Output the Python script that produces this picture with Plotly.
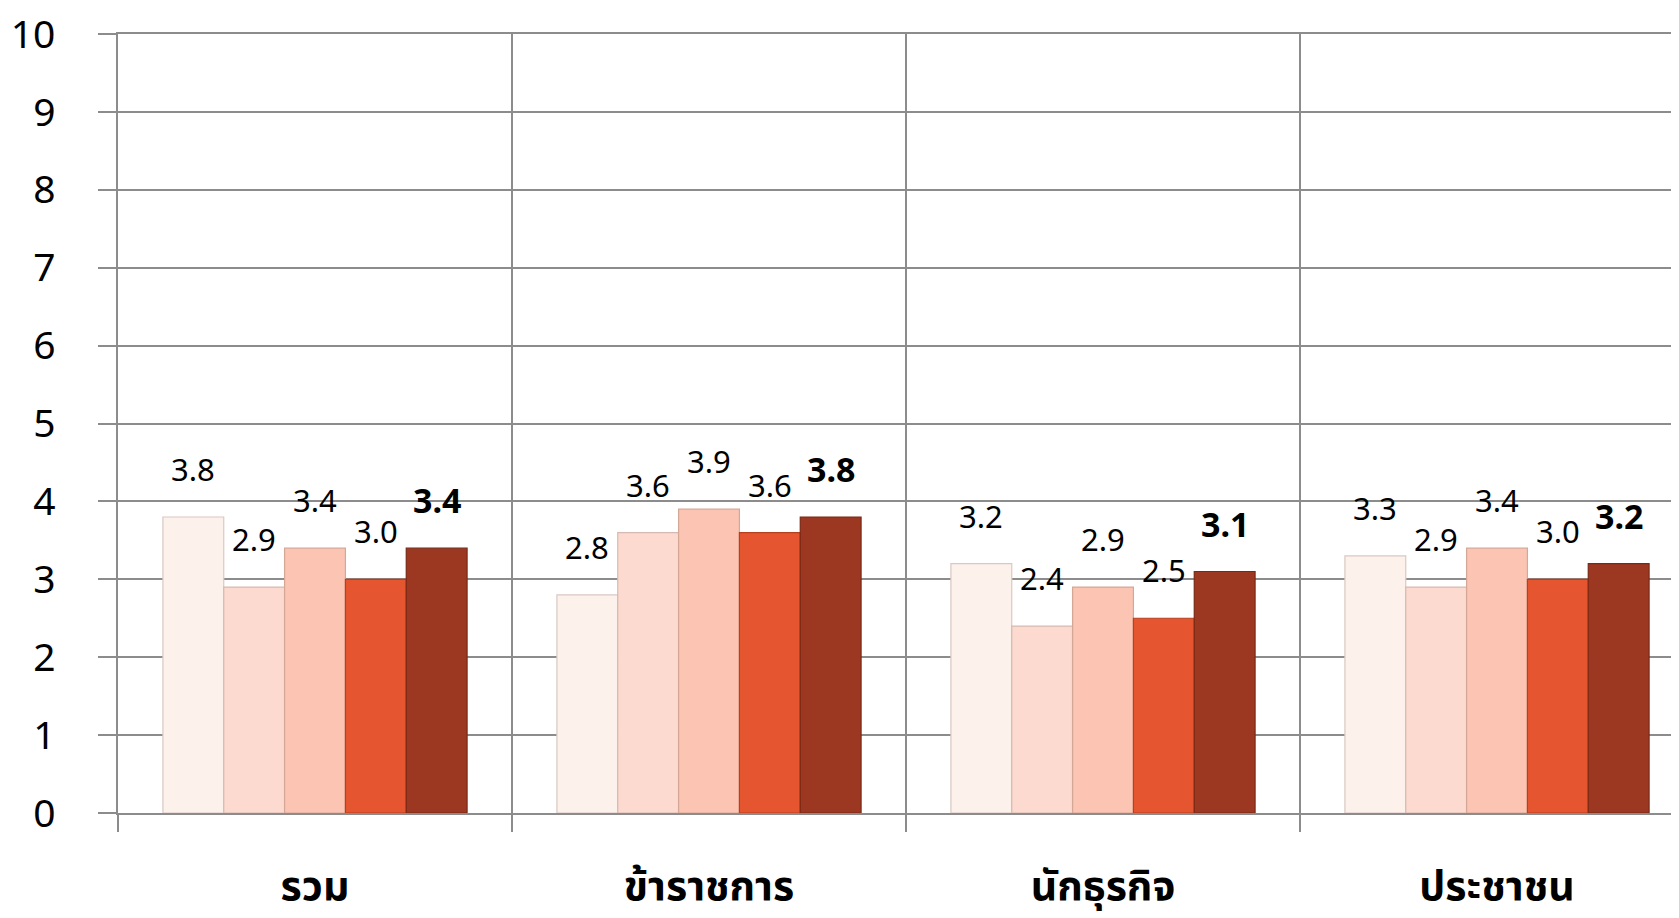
import plotly.graph_objects as go

categories = ["รวม", "ข้าราชการ", "นักธุรกิจ", "ประชาชน"]
series_names = ["S1", "S2", "S3", "S4", "S5"]
series_values = [
    [3.8, 2.8, 3.2, 3.3],
    [2.9, 3.6, 2.4, 2.9],
    [3.4, 3.9, 2.9, 3.4],
    [3.0, 3.6, 2.5, 3.0],
    [3.4, 3.8, 3.1, 3.2],
]
colors = ["#FDF1EC", "#FCDAD0", "#FBC4B3", "#E5552F", "#9C3721"]
line_colors = ["#D9C8C3", "#D6B9B0", "#D4A797", "#B8401F", "#7A2915"]
y_ticks = list(range(0, 11))

BARGAP = 0.228
n_series = len(series_values)
x_idx = list(range(len(categories)))

fig = go.Figure()
for i, (name, vals) in enumerate(zip(series_names, series_values)):
    fig.add_trace(go.Bar(
        x=x_idx, y=vals, name=name,
        marker=dict(color=colors[i], line=dict(color=line_colors[i], width=1.2)),
        showlegend=False, hoverinfo="skip",
    ))

# data labels above the bars
group_w = 1 - BARGAP
bar_w = group_w / n_series
for i, vals in enumerate(series_values):
    last = i == n_series - 1
    for c, v in zip(x_idx, vals):
        xc = c - group_w / 2 + bar_w * (i + 0.5)
        fig.add_annotation(
            x=xc, y=v, text=f"{v:.1f}", showarrow=False,
            yshift=48, yanchor="middle", xanchor="center",
            font=dict(family="Noto Sans, sans-serif", size=34 if last else 31,
                      color="black", weight="bold" if last else "normal"),
        )

GRID = "#8C8C8C"
fig.update_layout(
    width=1671, height=910,
    margin=dict(l=110, r=0, t=26, b=105, autoexpand=False),
    paper_bgcolor="white", plot_bgcolor="white",
    barmode="group", bargap=BARGAP, bargroupgap=0,
    xaxis=dict(
        automargin=False,
        range=[-0.5, -0.5 + 1561 / 394],
        tickmode="array", tickvals=x_idx, ticktext=categories,
        ticks="", showgrid=False, zeroline=False,
        tickfont=dict(family="Noto Sans Thai, Noto Sans, sans-serif", size=41,
                      color="black", weight="bold"),
        ticklabelstandoff=36, ticklabeloverflow="allow",
        minor=dict(tickmode="array", tickvals=[-0.5, 0.5, 1.5, 2.5],
                   showgrid=True, gridcolor=GRID, gridwidth=1.5,
                   ticks="outside", ticklen=17, tickcolor=GRID, tickwidth=1.5),
        showline=True, linecolor=GRID, linewidth=2, mirror=True,
    ),
    yaxis=dict(
        automargin=False,
        range=[0, 10], tickmode="array", tickvals=y_ticks,
        showgrid=True, gridcolor=GRID, gridwidth=2,
        ticks="outside", ticklen=18, tickcolor=GRID, tickwidth=2,
        zeroline=False, showline=True, linecolor=GRID, linewidth=1.5,
        tickfont=dict(family="Noto Sans, sans-serif", size=39, color="black"),
        ticklabelstandoff=35, ticklabeloverflow="allow",
    ),
)

fig.write_html("out.html")
